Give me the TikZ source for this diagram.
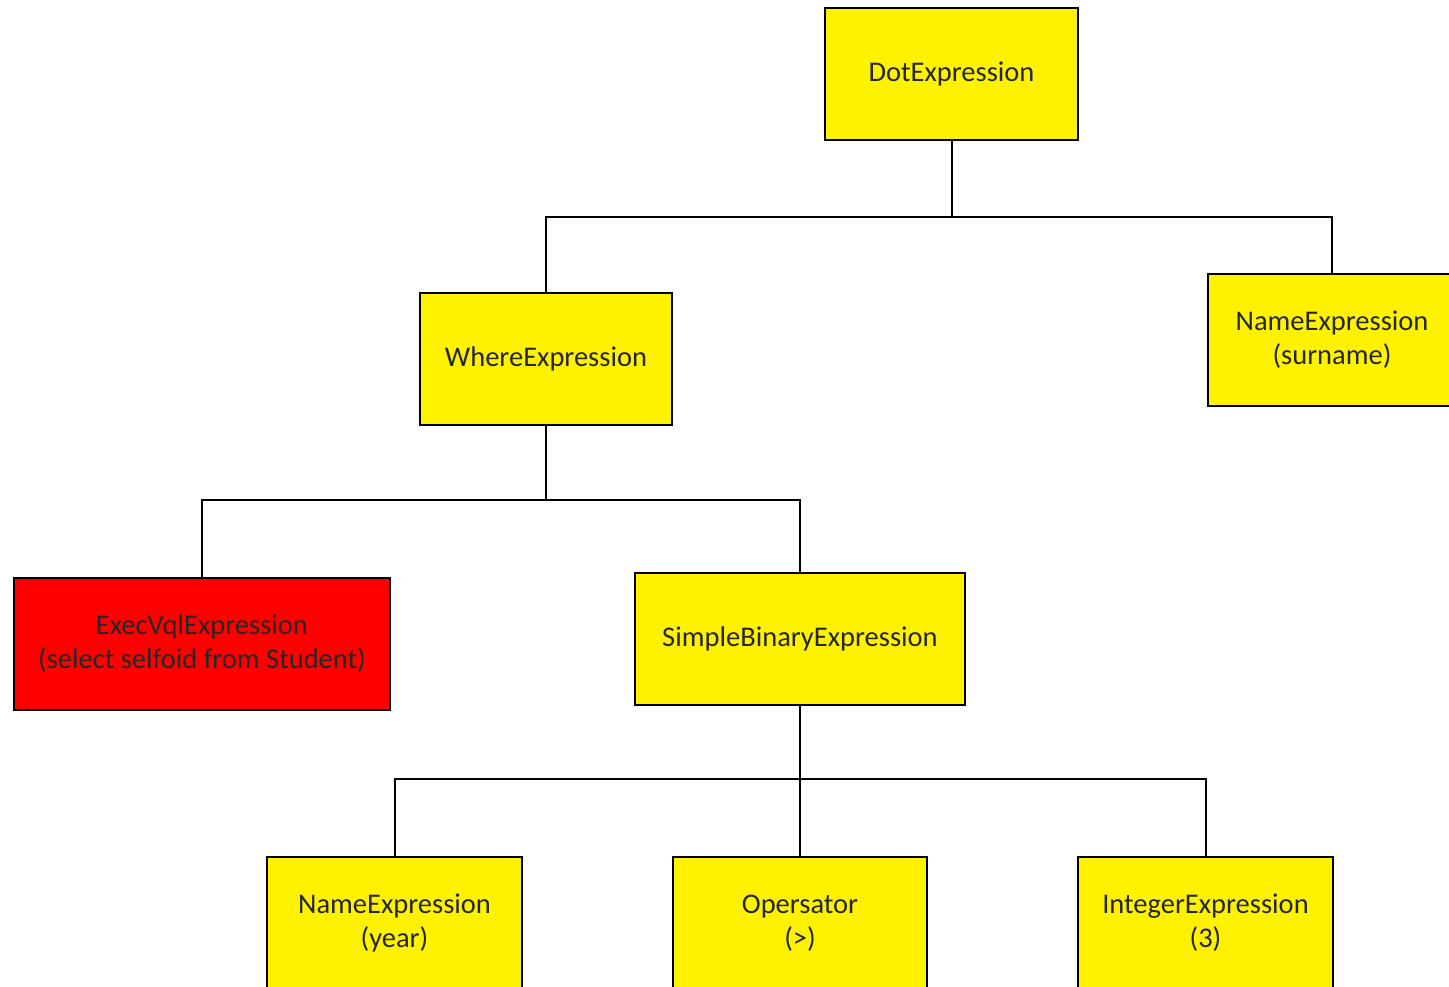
\documentclass[tikz,border=0pt]{standalone}
\usepackage{fontspec}
\setmainfont{Carlito}
\begin{document}
\begin{tikzpicture}[x=1pt,y=-1pt,
  box/.style={draw=black, line width=2pt, fill=yellow, minimum height=132pt, align=center, inner sep=0pt, font=\fontsize{28.5}{34}\selectfont, text=black!85},
  conn/.style={draw=black, line width=2pt}]
\useasboundingbox (0,0) rectangle (1449,987);
\clip (0,0) rectangle (1449,987);
\node[box, minimum width=253pt] (dot) at (951.5,74) {DotExpression};
\node[box, minimum width=248pt] (surname) at (1332,340) {NameExpression\\(surname)};
\node[box, minimum width=252pt] (where) at (546,359) {WhereExpression};
\node[box, minimum width=376pt, fill=red] (exec) at (202,644) {ExecVqlExpression\\(select selfoid from Student)};
\node[box, minimum width=330pt] (sbe) at (800,639) {SimpleBinaryExpression};
\node[box, minimum width=255pt] (year) at (394.5,923) {NameExpression\\(year)};
\node[box, minimum width=254pt] (oper) at (800,923) {Opersator\\(>)};
\node[box, minimum width=255pt] (int) at (1205.5,923) {IntegerExpression\\(3)};
\coordinate (b1) at (951.5,217);
\coordinate (b2) at (546,500);
\coordinate (b3) at (800,779);
\draw[conn] (dot.south) -- (b1);
\draw[conn] (where.north) |- (b1) -| (surname.north);
\draw[conn] (where.south) -- (b2);
\draw[conn] (exec.north) |- (b2) -| (sbe.north);
\draw[conn] (sbe.south) -- (b3);
\draw[conn] (year.north) |- (b3) -| (int.north);
\draw[conn] (oper.north) -- (b3);
\end{tikzpicture}
\end{document}
